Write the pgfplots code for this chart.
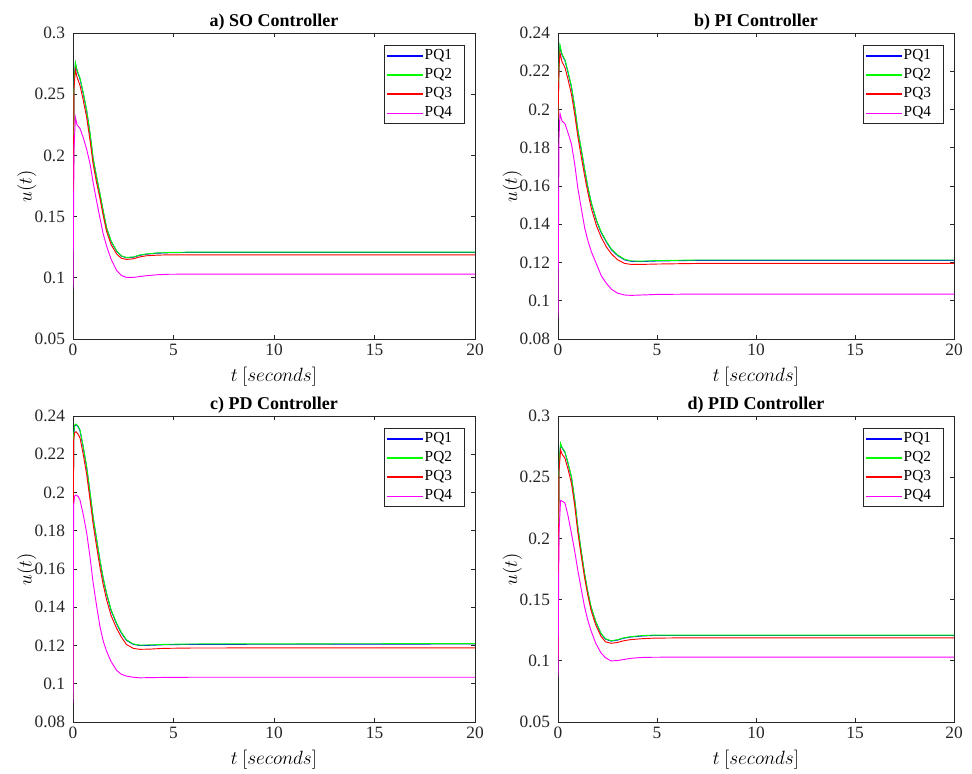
\documentclass[border=0pt]{standalone}
\usepackage{fontspec}
\setmainfont{Liberation Serif}
\usepackage{pgfplots}
\usepackage{pgfplotstable}
\pgfplotsset{compat=1.18}
\definecolor{axgray}{gray}{0.15}
\definecolor{pqblue}{rgb}{0,0,1}
\definecolor{pqgreen}{rgb}{0,1,0}
\definecolor{pqred}{rgb}{1,0,0}
\definecolor{pqmag}{rgb}{1,0,1}

% t  PQ1  PQ2  PQ3  PQ4
\pgfplotstableread{
t pqa pqb pqc pqd
0 0.120 0.120 0.120 0.091
0.05 0.259 0.260 0.255 0.205
0.12 0.275 0.2757 0.270 0.231
0.2 0.2692 0.270 0.264 0.225
0.35 0.2623 0.263 0.257 0.222
0.5 0.2513 0.252 0.246 0.215
0.68 0.2363 0.237 0.231 0.205
0.85 0.2173 0.218 0.212 0.193
1.0 0.1973 0.198 0.193 0.178
1.17 0.1823 0.183 0.178 0.163
1.34 0.1684 0.169 0.165 0.149
1.5 0.1545 0.155 0.151 0.136
1.67 0.1406 0.141 0.138 0.126
1.9 0.1296 0.130 0.127 0.115
2.17 0.1217 0.122 0.1195 0.106
2.4 0.1178 0.118 0.116 0.102
2.66 0.1164 0.1166 0.115 0.1003
3.0 0.1168 0.117 0.1155 0.1003
3.3 0.1183 0.1185 0.117 0.101
3.65 0.1193 0.1195 0.118 0.1017
4.2 0.1201 0.1203 0.1185 0.1025
4.8 0.1205 0.1207 0.1188 0.1029
6 0.1208 0.121 0.1188 0.103
20 0.1208 0.121 0.1188 0.103
}\tabSO

\pgfplotstableread{
t pqa pqb pqc pqd
0 0.195 0.195 0.195 0.091
0.05 0.224 0.225 0.222 0.185
0.1 0.233 0.2337 0.2296 0.198
0.2 0.2286 0.229 0.225 0.194
0.35 0.2256 0.226 0.222 0.1926
0.5 0.2196 0.220 0.216 0.188
0.68 0.2116 0.212 0.208 0.182
0.85 0.2006 0.201 0.197 0.171
1.0 0.1891 0.1895 0.186 0.159
1.18 0.1786 0.179 0.175 0.148
1.35 0.1682 0.1686 0.165 0.138
1.52 0.1586 0.159 0.156 0.131
1.69 0.1506 0.151 0.148 0.1255
1.95 0.1416 0.142 0.139 0.119
2.19 0.1354 0.1358 0.133 0.113
2.45 0.1306 0.131 0.128 0.109
2.7 0.1266 0.127 0.1245 0.106
3.0 0.1237 0.124 0.1215 0.104
3.36 0.1214 0.1217 0.1195 0.103
3.7 0.1206 0.1208 0.119 0.1028
4.2 0.1205 0.1207 0.119 0.103
5 0.1208 0.121 0.1192 0.1033
7 0.1211 0.1213 0.1195 0.1035
20 0.1211 0.1213 0.1195 0.1035
}\tabPI

\pgfplotstableread{
t pqa pqb pqc pqd
0 0.092 0.092 0.092 0.090
0.03 0.229 0.230 0.227 0.193
0.08 0.2348 0.2352 0.2312 0.1982
0.15 0.2355 0.2358 0.2318 0.1987
0.25 0.2345 0.2348 0.2305 0.198
0.35 0.2323 0.2327 0.2285 0.196
0.5 0.2241 0.2245 0.2205 0.189
0.68 0.2131 0.2135 0.2095 0.179
0.85 0.1996 0.200 0.196 0.166
1.0 0.187 0.1874 0.1836 0.153
1.17 0.1756 0.176 0.172 0.141
1.34 0.1644 0.1648 0.161 0.130
1.5 0.1551 0.1555 0.152 0.1225
1.67 0.147 0.1474 0.144 0.117
1.9 0.1381 0.1385 0.1355 0.1115
2.17 0.1313 0.1317 0.129 0.107
2.4 0.1266 0.127 0.1245 0.105
2.66 0.1227 0.123 0.1205 0.104
3.0 0.1206 0.1208 0.1185 0.1034
3.33 0.120 0.1202 0.118 0.1031
3.8 0.1201 0.1203 0.1181 0.1032
4.5 0.1204 0.1206 0.1185 0.1033
6 0.1206 0.1208 0.1187 0.1034
20 0.1208 0.121 0.1188 0.1034
}\tabPD

\pgfplotstableread{
t pqa pqb pqc pqd
0 0.120 0.120 0.100 0.087
0.05 0.259 0.260 0.255 0.205
0.13 0.2772 0.2777 0.2722 0.231
0.2 0.274 0.2745 0.269 0.2305
0.35 0.2703 0.2708 0.2655 0.229
0.5 0.2615 0.262 0.257 0.219
0.68 0.2499 0.2504 0.245 0.204
0.85 0.2305 0.231 0.226 0.189
1.0 0.2091 0.2096 0.205 0.174
1.17 0.1895 0.190 0.186 0.159
1.34 0.171 0.1715 0.168 0.1442
1.5 0.1565 0.157 0.154 0.1335
1.67 0.1437 0.1442 0.1412 0.1245
1.9 0.132 0.1325 0.1295 0.1145
2.17 0.1221 0.1225 0.120 0.1065
2.4 0.1177 0.118 0.1155 0.1025
2.68 0.1161 0.1164 0.1143 0.0999
3.0 0.1169 0.1172 0.115 0.1002
3.3 0.1184 0.1187 0.1163 0.101
3.66 0.1194 0.1197 0.1173 0.102
4.2 0.1202 0.1205 0.118 0.1027
4.8 0.1207 0.121 0.1185 0.1029
6 0.1207 0.121 0.1187 0.103
20 0.1207 0.121 0.1188 0.103
}\tabPID

\pgfplotsset{
  ctrl/.style={
    scale only axis, height=229.5pt, anchor=north west,
    xmin=0, xmax=20, xtick={0,5,10,15,20},
    tick align=inside, xtick pos=both, ytick pos=both,
    major tick length=3pt,
    every tick/.style={axgray, line width=0.5pt},
    axis line style={axgray, line width=0.5pt},
    tick label style={font=\fontsize{13}{15}\selectfont, text=axgray},
    /pgf/number format/assume math mode=true,
    scaled y ticks=false,
    yticklabel style={/pgf/number format/fixed, /pgf/number format/precision=2, xshift=-2.5pt},
    every axis title/.style={font=\fontsize{13.5}{16}\selectfont\bfseries, at={(0.5,1)}, anchor=base, yshift=5pt},
    xlabel={$t\ [seconds]$}, ylabel={$u(t)$},
    label style={font=\fontsize{13.5}{16}\selectfont},
    xlabel style={at={(0.5,0)}, anchor=base, yshift=-32pt},
    ylabel style={at={(-0.103,0.5)}, anchor=base},
    legend style={at={(1,1)}, anchor=north east, xshift=-7.5pt, yshift=-9pt,
      font=\fontsize{11.5}{13}\selectfont, draw=axgray, line width=0.5pt,
      nodes={inner sep=1.5pt, text height=8pt, text depth=2.5pt},
      row sep=0.8pt, inner xsep=2pt, inner ysep=1.2pt},
    legend cell align=left,
    legend image code/.code={\fill[#1, draw=none] (0pt,-0.45pt) rectangle (27pt,0.45pt);},
    every axis plot/.append style={line width=0.7pt},
  }
}

\begin{document}
\begin{tikzpicture}
\path[use as bounding box] (0,0) rectangle (729pt,-580.5pt);

\begin{axis}[ctrl, at={(54.75pt,-24.75pt)}, width=301.5pt,
  ymin=0.05, ymax=0.3, ytick={0.05,0.1,0.15,0.2,0.25,0.3},
  title={a) SO Controller}]
\addplot[pqblue] table[x=t,y=pqa] {\tabSO};
\addplot[pqgreen] table[x=t,y=pqb] {\tabSO};
\addplot[pqred] table[x=t,y=pqc] {\tabSO};
\addplot[pqmag] table[x=t,y=pqd] {\tabSO};
\legend{PQ1\hspace*{6pt},PQ2\hspace*{6pt},PQ3\hspace*{6pt},PQ4\hspace*{6pt}}
\end{axis}

\begin{axis}[ctrl, at={(418.5pt,-24.75pt)}, width=297pt,
  ymin=0.08, ymax=0.24, ytick={0.08,0.1,0.12,0.14,0.16,0.18,0.2,0.22,0.24},
  title={b) PI Controller}]
\addplot[pqblue] table[x=t,y=pqa] {\tabPI};
\addplot[pqgreen] table[x=t,y=pqb] {\tabPI};
\addplot[pqred] table[x=t,y=pqc] {\tabPI};
\addplot[pqmag] table[x=t,y=pqd] {\tabPI};
\legend{PQ1\hspace*{6pt},PQ2\hspace*{6pt},PQ3\hspace*{6pt},PQ4\hspace*{6pt}}
\end{axis}

\begin{axis}[ctrl, at={(54.75pt,-312pt)}, width=301.5pt,
  ymin=0.08, ymax=0.24, ytick={0.08,0.1,0.12,0.14,0.16,0.18,0.2,0.22,0.24},
  title={c) PD Controller}]
\addplot[pqblue] table[x=t,y=pqa] {\tabPD};
\addplot[pqgreen] table[x=t,y=pqb] {\tabPD};
\addplot[pqred] table[x=t,y=pqc] {\tabPD};
\addplot[pqmag] table[x=t,y=pqd] {\tabPD};
\legend{PQ1\hspace*{6pt},PQ2\hspace*{6pt},PQ3\hspace*{6pt},PQ4\hspace*{6pt}}
\end{axis}

\begin{axis}[ctrl, at={(418.5pt,-312pt)}, width=297pt,
  ymin=0.05, ymax=0.3, ytick={0.05,0.1,0.15,0.2,0.25,0.3},
  title={d) PID Controller}]
\addplot[pqblue] table[x=t,y=pqa] {\tabPID};
\addplot[pqgreen] table[x=t,y=pqb] {\tabPID};
\addplot[pqred] table[x=t,y=pqc] {\tabPID};
\addplot[pqmag] table[x=t,y=pqd] {\tabPID};
\legend{PQ1\hspace*{6pt},PQ2\hspace*{6pt},PQ3\hspace*{6pt},PQ4\hspace*{6pt}}
\end{axis}
\end{tikzpicture}
\end{document}
